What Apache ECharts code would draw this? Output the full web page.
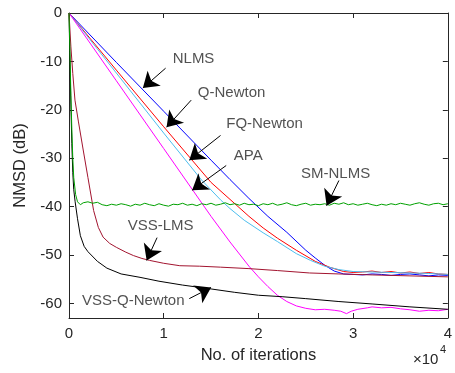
<!DOCTYPE html>
<html><head><meta charset="utf-8">
<script src="https://cdn.jsdelivr.net/npm/echarts@6/dist/echarts.min.js"></script>
<style>html,body{margin:0;padding:0;background:#fff}#c{width:455px;height:373px}</style>
</head><body><div id="c"></div>
<script>
// x in units of 1e4 iterations, y in dB
const xTicks = [0, 1, 2, 3, 4];
const yTicks = [0, -10, -20, -30, -40, -50, -60];

const nlms = [[0,0],[0.5,-10.2],[1,-20.3],[1.5,-30.4],[1.7,-34.4],[1.9,-38.3],[2.1,-42],[2.3,-45.3],[2.5,-49],[2.6,-50.6],[2.7,-52.1],[2.8,-53.3],[2.9,-53.9],[3.0,-54.0],[3.1,-54.1],[3.2,-53.9],[3.3,-54.0],[3.4,-54.2],[3.5,-54.0],[3.6,-53.9],[3.7,-54.1],[3.8,-54.3],[3.9,-54.1],[4.0,-54.2]];
const qNewton = [[0,0],[0.5,-11.8],[1,-23.5],[1.5,-35],[1.7,-38.5],[1.9,-42],[2.05,-44.4],[2.2,-46.5],[2.4,-49],[2.6,-51.3],[2.75,-52.5],[2.9,-53.4],[3.0,-53.6],[3.1,-53.5],[3.2,-53.3],[3.3,-53.6],[3.4,-53.4],[3.5,-53.7],[3.6,-53.5],[3.7,-53.8],[3.8,-53.6],[3.9,-53.9],[4.0,-54.0]];
const fqNewton = [[0,0],[0.5,-12.4],[1,-24.8],[1.4,-34.5],[1.6,-38.6],[1.7,-40.4],[1.85,-42.8],[2.05,-45.4],[2.2,-47.2],[2.4,-49.7],[2.55,-51.1],[2.7,-52.3],[2.85,-53.0],[3.0,-53.4],[3.2,-53.5],[3.4,-53.6],[3.6,-53.7],[3.8,-53.8],[4.0,-54.0]];
const apa = [[0,0],[0.5,-14],[1,-28],[1.5,-42],[1.7,-47.3],[1.9,-52.3],[2.0,-54.5],[2.1,-56.5],[2.2,-58.3],[2.3,-59.6],[2.4,-60.5],[2.5,-61],[2.6,-61.3],[2.7,-61.2],[2.8,-61.4],[2.87,-61.6],[2.93,-62.1],[2.98,-61.6],[3.05,-61.2],[3.15,-60.9],[3.2,-60.7],[3.3,-60.9],[3.4,-60.8],[3.5,-61.1],[3.6,-61.3],[3.7,-61.6],[3.8,-61.4],[3.9,-61.5],[4.0,-61.2]];
const vssQNewton = [[0,0],[0.01,-10],[0.02,-19],[0.03,-27],[0.04,-33],[0.05,-36.5],[0.065,-39],[0.09,-42.5],[0.12,-46],[0.16,-48.2],[0.2,-49.3],[0.3,-51.3],[0.4,-52.7],[0.55,-53.9],[0.75,-54.6],[0.95,-55.4],[1.2,-56.2],[1.5,-57],[1.75,-57.7],[2.0,-58.3],[2.25,-58.6],[2.5,-59],[2.85,-59.6],[3.2,-60.1],[3.6,-60.7],[4.0,-61.2]];
const vssLms = [[0,0],[0.02,-7],[0.04,-12.5],[0.063,-18],[0.1,-22.5],[0.15,-28.3],[0.2,-34],[0.26,-40.8],[0.31,-44.3],[0.36,-46.3],[0.43,-47.6],[0.5,-48.4],[0.6,-49.4],[0.68,-50.1],[0.77,-50.7],[0.85,-51.1],[1.0,-51.7],[1.17,-52.2],[1.38,-52.3],[1.6,-52.5],[1.9,-52.8],[2.2,-53.2],[2.54,-53.7],[2.85,-53.9],[3.2,-54.1],[3.6,-54.3],[4.0,-54.5]];
const smNlms = [[0,0],[0.01,-8],[0.02,-17],[0.03,-24],[0.04,-30],[0.05,-34],[0.07,-37.5],[0.09,-39],[0.12,-39.6],[0.15,-39.2],[0.2,-39.0],[0.25,-39.3],[0.3,-39.1],[0.35,-39.6],[0.4,-39.8],[0.45,-39.5],[0.5,-39.7],[0.55,-39.4],[0.6,-39.6],[0.65,-39.9],[0.7,-39.5],[0.75,-39.7],[0.8,-39.3],[0.85,-39.6],[0.9,-39.8],[0.95,-39.4],[1.0,-39.7],[1.05,-39.9],[1.1,-39.5],[1.15,-39.6],[1.2,-39.3],[1.25,-39.7],[1.3,-39.5],[1.35,-39.8],[1.4,-39.4],[1.45,-39.6],[1.5,-39.3],[1.55,-39.7],[1.6,-39.5],[1.65,-39.2],[1.7,-39.6],[1.75,-39.4],[1.8,-39.7],[1.85,-39.3],[1.9,-39.6],[1.95,-39.5],[2.0,-39.8],[2.05,-39.4],[2.1,-39.6],[2.15,-39.3],[2.2,-39.7],[2.25,-39.5],[2.3,-39.2],[2.35,-39.6],[2.4,-39.8],[2.45,-39.5],[2.5,-39.3],[2.55,-39.7],[2.6,-39.5],[2.65,-39.6],[2.7,-39.4],[2.75,-39.7],[2.8,-39.3],[2.85,-39.5],[2.9,-39.2],[2.95,-39.6],[3.0,-39.4],[3.05,-39.7],[3.1,-39.5],[3.15,-39.3],[3.2,-39.6],[3.25,-39.8],[3.3,-39.5],[3.35,-39.7],[3.4,-39.4],[3.45,-39.6],[3.5,-39.3],[3.55,-39.5],[3.6,-39.7],[3.65,-39.4],[3.7,-39.2],[3.75,-39.5],[3.8,-39.7],[3.85,-39.4],[3.9,-39.3],[3.95,-39.6],[4.0,-39.4]];

// annotations: text anchor (left, middle) and arrow from -> to (data coords)
const annoText = ['NLMS','Q-Newton','FQ-Newton','APA','SM-NLMS','VSS-LMS','VSS-Q-Newton'];
const annoPos = [[1.095,-9.5],[1.36,-16.4],[1.66,-23],[1.74,-29.6],[2.45,-33.3],[0.62,-43.9],[0.137,-59.4]];
const arrowFrom = [[1.02,-11.4],[1.29,-18],[1.6,-25.3],[1.66,-31.5],[2.85,-34.6],[0.93,-46.4],[1.27,-59]];
const arrowTo = [[0.78,-15.5],[1.03,-23.6],[1.27,-30.4],[1.3,-36.6],[2.72,-39.8],[0.82,-51.1],[1.5,-56.7]];

const FONT = 'Liberation Sans, Arial, Helvetica, sans-serif';
const TXT = '#262626';

const chart = echarts.init(document.getElementById('c'), null, {renderer: 'canvas'});
function mkLine(name, data, color) {
  return {name, type: 'line', data, showSymbol: false, symbol: 'none',
    lineStyle: {color, width: 1}, itemStyle: {color}, animation: false, z: 3};
}
const axisCommon = {
  axisLine: {show: true, onZero: false, lineStyle: {color: TXT, width: 1}},
  splitLine: {show: false}
};
chart.setOption({
  animation: false,
  grid: {left: 69, right: 6, top: 13, bottom: 55},
  xAxis: [
    Object.assign({type: 'value', min: 0, max: 4, interval: 1, position: 'bottom',
      name: 'No. of iterations', nameLocation: 'middle', nameGap: 29,
      nameTextStyle: {fontFamily: FONT, fontSize: 16.5, color: TXT},
      axisTick: {inside: true, length: 5, lineStyle: {color: TXT}},
      axisLabel: {fontFamily: FONT, fontSize: 15, color: TXT, margin: 8}}, axisCommon),
    Object.assign({type: 'value', min: 0, max: 4, interval: 1, position: 'top',
      axisTick: {inside: true, length: 5, lineStyle: {color: TXT}},
      axisLabel: {show: false}}, axisCommon)
  ],
  yAxis: [
    Object.assign({type: 'value', min: -63, max: 0, position: 'left',
      name: 'NMSD (dB)', nameLocation: 'middle', nameGap: 34, nameRotate: 90,
      nameTextStyle: {fontFamily: FONT, fontSize: 16.5, color: TXT},
      axisTick: {inside: true, length: 5, customValues: yTicks, lineStyle: {color: TXT}},
      axisLabel: {fontFamily: FONT, fontSize: 15, color: TXT, margin: 7, customValues: yTicks}}, axisCommon),
    Object.assign({type: 'value', min: -63, max: 0, position: 'right',
      axisTick: {inside: true, length: 5, customValues: yTicks, lineStyle: {color: TXT}},
      axisLabel: {show: false}}, axisCommon)
  ],
  series: [
    mkLine('NLMS', nlms, '#0000ff'),
    mkLine('Q-Newton', qNewton, '#ff0000'),
    mkLine('FQ-Newton', fqNewton, '#4dbeee'),
    mkLine('APA', apa, '#ff00ff'),
    mkLine('VSS-Q-Newton', vssQNewton, '#000000'),
    mkLine('VSS-LMS', vssLms, '#a2142f'),
    mkLine('SM-NLMS', smNlms, '#00a000'),
    {type: 'line', data: [], z: 5, silent: true,
      markLine: {silent: true, animation: false, symbol: ['none', 'arrow'], symbolSize: 15,
        label: {show: false}, lineStyle: {color: '#000', width: 1, type: 'solid'},
        emphasis: {disabled: true},
        data: arrowFrom.map((f, i) => [{coord: f}, {coord: arrowTo[i]}])}},
    {type: 'scatter', symbolSize: 0, z: 6, silent: true,
      data: annoPos.map((p, i) => [p[0], p[1], annoText[i]]),
      label: {show: true, position: 'right', distance: 0, formatter: p => p.value[2],
        fontFamily: FONT, fontSize: 15, color: TXT}}
  ],
  graphic: [
    {type: 'text', left: 413, top: 352, style: {text: '×10', font: '15px ' + FONT, fill: TXT}},
    {type: 'text', left: 440, top: 344, style: {text: '4', font: '11px ' + FONT, fill: TXT}}
  ]
});
</script></body></html>
